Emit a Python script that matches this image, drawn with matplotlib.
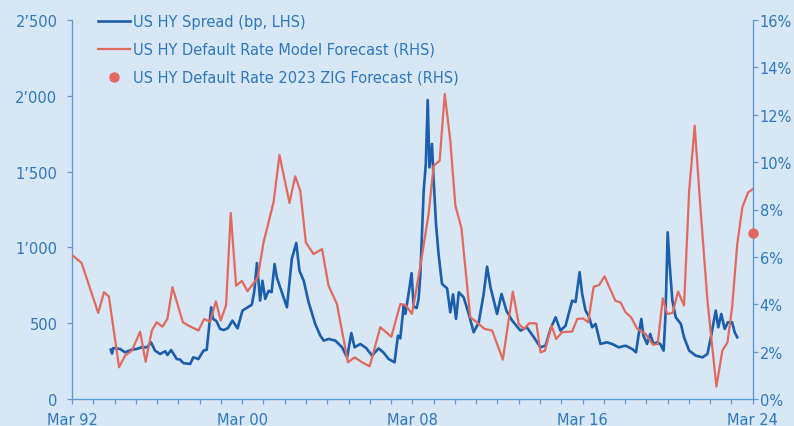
import matplotlib
matplotlib.use("Agg")
import matplotlib.pyplot as plt
from matplotlib.ticker import FixedLocator, FixedFormatter

# ---------------- data ----------------
# US HY spread (bp, LHS) : decimal year, bp
spread_t = [1993.99, 1994.05, 1994.10, 1994.43, 1994.66, 1994.98, 1995.20, 1995.45, 1995.70,
            1995.88, 1996.07, 1996.31, 1996.55, 1996.65, 1996.83, 1997.09, 1997.25, 1997.40,
            1997.72, 1997.87, 1998.11, 1998.35, 1998.50, 1998.71, 1998.80, 1998.95, 1999.13,
            1999.30, 1999.50, 1999.71, 1999.95, 2000.18, 2000.43, 2000.62, 2000.73, 2000.86,
            2001.01, 2001.12, 2001.25, 2001.41, 2001.55, 2001.69, 2001.80, 2002.03, 2002.27,
            2002.50, 2002.71, 2002.86, 2003.06, 2003.29, 2003.60, 2003.84, 2004.00, 2004.23,
            2004.55, 2004.86, 2005.10, 2005.30, 2005.45, 2005.72, 2006.00, 2006.27, 2006.58,
            2006.80, 2007.05, 2007.33, 2007.49, 2007.60, 2007.76, 2007.84, 2008.00, 2008.13,
            2008.23, 2008.37, 2008.46, 2008.54, 2008.70, 2008.80, 2008.89, 2008.97, 2009.09,
            2009.17, 2009.28, 2009.40, 2009.56, 2009.80, 2009.95, 2010.08, 2010.22, 2010.35,
            2010.58, 2010.82, 2011.05, 2011.29, 2011.52, 2011.68, 2011.84, 2012.00, 2012.15,
            2012.36, 2012.59, 2012.86, 2013.25, 2013.55, 2013.88, 2014.19, 2014.43, 2014.66,
            2014.90, 2015.13, 2015.37, 2015.68, 2015.84, 2016.03, 2016.15, 2016.31, 2016.45,
            2016.62, 2016.78, 2017.01, 2017.30, 2017.56, 2017.87, 2018.19, 2018.50, 2018.68,
            2018.81, 2018.93, 2019.03, 2019.20, 2019.35, 2019.50, 2019.67, 2019.82, 2019.98,
            2020.07, 2020.17, 2020.26, 2020.39, 2020.55, 2020.79, 2020.94, 2021.18, 2021.49,
            2021.81, 2022.04, 2022.20, 2022.43, 2022.55, 2022.69, 2022.85, 2023.00, 2023.20,
            2023.32, 2023.44]
spread_bp = [325, 300, 336, 330, 308, 325, 330, 341, 341,
             374, 319, 297, 315, 290, 323, 264, 260, 237,
             231, 275, 264, 319, 325, 605, 528, 515, 462,
             455, 468, 517, 466, 583, 605, 622, 704, 897,
             649, 780, 660, 714, 704, 890, 800, 704, 605,
             923, 1029, 846, 780, 638, 495, 418, 385, 396,
             385, 341, 275, 435, 341, 363, 336, 286, 334,
             308, 264, 242, 418, 400, 616, 561, 704, 830,
             610, 600, 660, 813, 1374, 1550, 1972, 1528, 1682,
             1440, 1154, 956, 759, 730, 572, 690, 528, 704,
             670, 561, 440, 506, 693, 873, 737, 646, 561,
             693, 583, 517, 451, 473, 407, 341, 352, 462,
             539, 451, 484, 649, 640, 836, 693, 583, 550,
             473, 495, 363, 374, 363, 341, 352, 330, 308,
             429, 528, 418, 363, 429, 363, 374, 363, 319,
             561, 1099, 891, 649, 539, 495, 407, 319, 286,
             275, 297, 407, 583, 473, 561, 462, 506, 506,
             440, 407]

# US HY default rate model forecast (%, RHS)
model_t = [1992.17, 1992.62, 1993.40, 1993.67, 1993.90, 1994.38, 1994.66, 1994.98, 1995.37,
           1995.63, 1995.92, 1996.15, 1996.42, 1996.65, 1996.89, 1997.38, 1997.64, 1998.11,
           1998.38, 1998.66, 1998.93, 1999.16, 1999.41, 1999.63, 1999.88, 2000.15, 2000.42,
           2000.90, 2001.17, 2001.64, 2001.92, 2002.39, 2002.66, 2002.90, 2003.16, 2003.52,
           2003.92, 2004.23, 2004.62, 2005.14, 2005.45, 2005.80, 2006.16, 2006.66, 2007.18,
           2007.60, 2007.85, 2008.15, 2008.54, 2008.93, 2009.17, 2009.45, 2009.69, 2009.95,
           2010.19, 2010.47, 2010.89, 2011.20, 2011.56, 2011.92, 2012.42, 2012.89, 2013.17,
           2013.40, 2013.67, 2014.00, 2014.19, 2014.40, 2014.71, 2014.93, 2015.20, 2015.68,
           2015.92, 2016.20, 2016.43, 2016.69, 2016.95, 2017.20, 2017.71, 2017.95, 2018.19,
           2018.45, 2018.74, 2019.13, 2019.48, 2019.70, 2019.94, 2020.15, 2020.40, 2020.66,
           2020.94, 2021.18, 2021.44, 2021.72, 2022.04, 2022.46, 2022.74, 2022.98, 2023.20,
           2023.44, 2023.68, 2023.95, 2024.17]
model_pct = [6.08, 5.74, 3.63, 4.51, 4.33, 1.34, 1.83, 2.04, 2.84,
             1.57, 2.89, 3.24, 3.05, 3.38, 4.72, 3.24, 3.10, 2.89,
             3.38, 3.26, 4.12, 3.31, 3.97, 7.85, 4.78, 4.99, 4.55,
             5.13, 6.61, 8.30, 10.30, 8.28, 9.40, 8.79, 6.61, 6.12,
             6.33, 4.78, 4.01, 1.55, 1.76, 1.55, 1.38, 3.03, 2.63,
             4.01, 3.97, 3.59, 5.60, 7.81, 9.85, 10.06, 12.88, 10.91,
             8.16, 7.24, 3.45, 3.24, 2.96, 2.89, 1.66, 4.53, 3.17,
             2.96, 3.20, 3.19, 1.97, 2.04, 3.10, 2.53, 2.82, 2.85,
             3.38, 3.40, 3.24, 4.74, 4.81, 5.18, 4.15, 4.08, 3.66,
             3.45, 2.96, 2.75, 2.29, 2.32, 4.25, 3.59, 3.63, 4.54,
             3.94, 8.79, 11.54, 7.95, 4.15, 0.52, 2.04, 2.39, 3.87,
             6.54, 8.09, 8.72, 8.86]

# 2023 ZIG forecast point (%, RHS)
zig_t = [2024.17]
zig_pct = [7.0]

x_tick_labels = ["Mar 92", "Mar 00", "Mar 08", "Mar 16", "Mar 24"]
x_label_years = [1992.167, 2000.167, 2008.167, 2016.167, 2024.167]
left_ticks = [0, 500, 1000, 1500, 2000, 2500]
left_labels = ["0", "500", "1\u2019000", "1\u2019500", "2\u2019000", "2\u2019500"]
right_ticks = [0, 2, 4, 6, 8, 10, 12, 14, 16]
right_labels = ["0%", "2%", "4%", "6%", "8%", "10%", "12%", "14%", "16%"]

legend_labels = ["US HY Spread (bp, LHS)",
                 "US HY Default Rate Model Forecast (RHS)",
                 "US HY Default Rate 2023 ZIG Forecast (RHS)"]

# ---------------- style ----------------
BG = "#D8E7F5"
TXT = "#2D78BE"
SPINE = "#5F9BD2"
BLUE = "#1A5EAC"
RED = "#E2695E"
FS = 10.5

plt.rcParams['font.family'] = ['DejaVu Sans']

fig = plt.figure(figsize=(7.94, 4.27), dpi=100, facecolor=BG)
ax = fig.add_axes([72 / 794, 27 / 427, 680.7 / 794, 379 / 427])
ax.set_facecolor(BG)
ax2 = ax.twinx()

l1, = ax.plot(spread_t, spread_bp, color=BLUE, lw=1.9, solid_joinstyle='round')
l2, = ax2.plot(model_t, model_pct, color=RED, lw=1.6, solid_joinstyle='round')
d1, = ax2.plot(zig_t, zig_pct, 'o', color=RED, ms=6.5, clip_on=False, zorder=5)

ax.set_xlim(1992.167, 2024.167)
ax.set_ylim(0, 2500)
ax2.set_ylim(0, 16)

year_ticks = [1992.167 + i for i in range(33)]
ax.xaxis.set_major_locator(FixedLocator(year_ticks))
lab = []
for yt in year_ticks:
    idx = [i for i, v in enumerate(x_label_years) if abs(v - yt) < 1e-6]
    lab.append(x_tick_labels[idx[0]] if idx else "")
ax.xaxis.set_major_formatter(FixedFormatter(lab))

ax.set_yticks(left_ticks)
ax.set_yticklabels(left_labels)
ax2.set_yticks(right_ticks)
ax2.set_yticklabels(right_labels)

for a in (ax, ax2):
    for s in a.spines.values():
        s.set_color(SPINE)
        s.set_linewidth(1.0)
    a.spines['top'].set_visible(False)
    a.tick_params(colors=SPINE, labelcolor=TXT, labelsize=FS, length=3.5, width=0.9)
ax.spines['right'].set_visible(False)
ax2.spines['left'].set_visible(False)
ax2.spines['bottom'].set_visible(False)
ax.tick_params(axis='y', pad=7)
ax2.tick_params(axis='y', pad=1.5)
ax.tick_params(axis='x', pad=6)

leg = ax2.legend([l1, l2, d1], legend_labels, loc='upper left',
                 bbox_to_anchor=(98 / 794, 1 - 15 / 427), bbox_transform=fig.transFigure,
                 frameon=False, fontsize=FS, handlelength=2.2, handletextpad=0.2,
                 labelspacing=0.88, borderaxespad=0, borderpad=0)
for t in leg.get_texts():
    t.set_color(TXT)

fig.savefig("out.png", dpi=100, facecolor=BG)
